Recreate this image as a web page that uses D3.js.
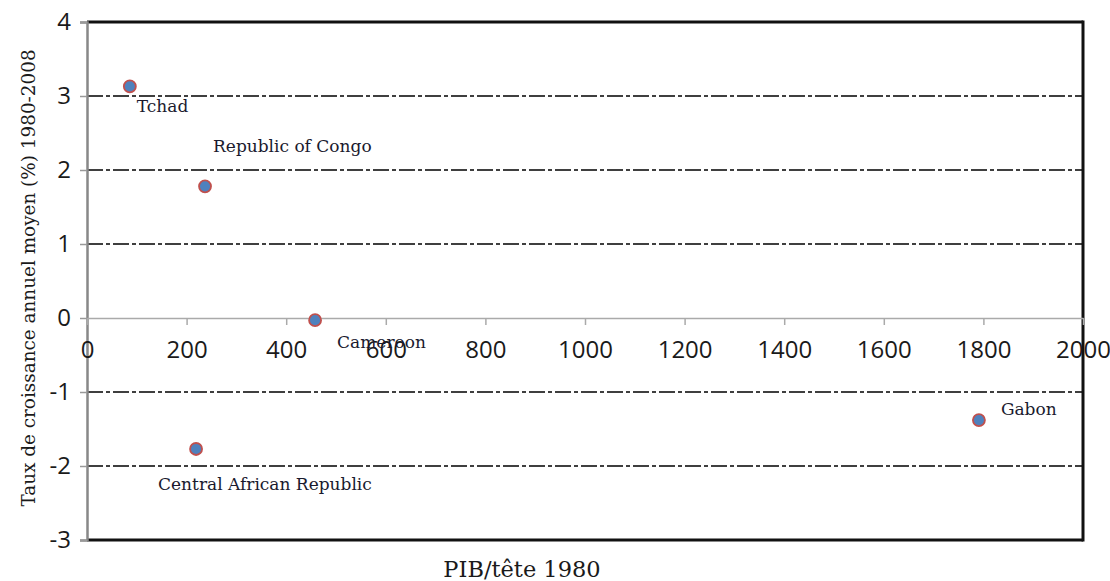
<!DOCTYPE html>
<html>
<head>
<meta charset="utf-8">
<script src="https://cdn.jsdelivr.net/npm/d3@7"></script>
<style>
  body { margin: 0; background: #fff; }
  .tick-label { font-family: "Open Sans", sans-serif; font-size: 24px; fill: #1a1a1a; }
  .pt-label { font-family: "DejaVu Serif", serif; font-size: 17px; fill: #1a1a2e; }
  .axis-title { font-family: "DejaVu Serif", serif; fill: #1a1a1a; }
</style>
</head>
<body>
<div id="chart"></div>
<script>
var countries = ["Tchad", "Republic of Congo", "Cameroon", "Central African Republic", "Gabon"];
var gdp1980 = [86, 237, 458, 219, 1791];
var growth = [3.13, 1.78, -0.03, -1.77, -1.38];
var xTicks = [0, 200, 400, 600, 800, 1000, 1200, 1400, 1600, 1800, 2000];
var yTicks = [4, 3, 2, 1, 0, -1, -2, -3];
var gridValues = [3, 2, 1, -1, -2];
// label offsets relative to each point (px)
var labelDx = [7, 8, 22, -38, 22];
var labelDy = [26, -34, 28, 41, -5];

var width = 1110, height = 581;
var plotLeft = 87, plotRight = 1083, plotTop = 22, plotBottom = 540;

var svg = d3.select('#chart')
  .append('svg')
  .attr('width', width)
  .attr('height', height)

var x = d3.scaleLinear().domain([0, 2000]).range([plotLeft, plotRight]);
var y = d3.scaleLinear().domain([-3, 4]).range([plotBottom, plotTop]);

// plain hyphen for negatives, like the original
var fmt = d => String(d);

// dash-dot gridlines
svg.selectAll('.grid')
  .data(gridValues)
  .join('line')
  .attr('class', 'grid')
  .attr('x1', plotLeft).attr('x2', plotRight)
  .attr('y1', d => y(d)).attr('y2', d => y(d))
  .attr('stroke', '#000')
  .attr('stroke-width', 1.6)
  .attr('stroke-dasharray', '16,3,4,3')

// frame: top, right, bottom black
svg.append('line').attr('x1', plotLeft).attr('x2', plotRight).attr('y1', plotTop).attr('y2', plotTop)
  .attr('stroke', '#111').attr('stroke-width', 3)
svg.append('line').attr('x1', plotRight).attr('x2', plotRight).attr('y1', plotTop - 1.5).attr('y2', plotBottom + 1.5)
  .attr('stroke', '#111').attr('stroke-width', 3)
svg.append('line').attr('x1', plotLeft).attr('x2', plotRight).attr('y1', plotBottom).attr('y2', plotBottom)
  .attr('stroke', '#111').attr('stroke-width', 3)

// y axis (gray)
var yAxis = svg.append('g')
  .attr('transform', 'translate(' + plotLeft + ',0)')
  .call(d3.axisLeft(y).tickValues(yTicks).tickSize(7).tickPadding(9).tickFormat(fmt))
yAxis.select('.domain').attr('stroke', '#888').attr('stroke-width', 2.5)
yAxis.selectAll('.tick line').attr('stroke', '#999').attr('stroke-width', 1.5)
yAxis.selectAll('.tick text').attr('class', 'tick-label').attr('font-size', null).attr('font-family', null)

// x axis at y = 0 (gray)
var xAxis = svg.append('g')
  .attr('transform', 'translate(0,' + y(0) + ')')
  .call(d3.axisBottom(x).tickValues(xTicks).tickSize(7).tickPadding(16).tickSizeOuter(0).tickFormat(fmt))
xAxis.select('.domain').attr('stroke', '#aaa').attr('stroke-width', 1.5)
xAxis.selectAll('.tick line').attr('stroke', '#aaa').attr('stroke-width', 1.5)
xAxis.selectAll('.tick text').attr('class', 'tick-label').attr('font-size', null).attr('font-family', null)

// points
var points = countries.map(function (c, i) {
  return { name: c, gdp: gdp1980[i], growth: growth[i], dx: labelDx[i], dy: labelDy[i] };
});

svg.selectAll('circle')
  .data(points)
  .join('circle')
  .attr('cx', d => x(d.gdp))
  .attr('cy', d => y(d.growth))
  .attr('r', 6)
  .attr('fill', '#4f81bd')
  .attr('stroke', '#c0504d')
  .attr('stroke-width', 1.8)

svg.selectAll('.pt-label')
  .data(points)
  .join('text')
  .attr('class', 'pt-label')
  .attr('x', d => x(d.gdp) + d.dx)
  .attr('y', d => y(d.growth) + d.dy)
  .text(d => d.name)

// axis titles
svg.append('text')
  .attr('class', 'axis-title')
  .attr('x', 522).attr('y', 577)
  .attr('text-anchor', 'middle')
  .attr('font-size', 22.5)
  .text('PIB/tête 1980')

svg.append('text')
  .attr('class', 'axis-title')
  .attr('transform', 'translate(35,' + 278 + ') rotate(-90)')
  .attr('text-anchor', 'middle')
  .attr('font-size', 18.4)
  .text('Taux de croissance annuel moyen (%) 1980-2008')
</script>
</body>
</html>
